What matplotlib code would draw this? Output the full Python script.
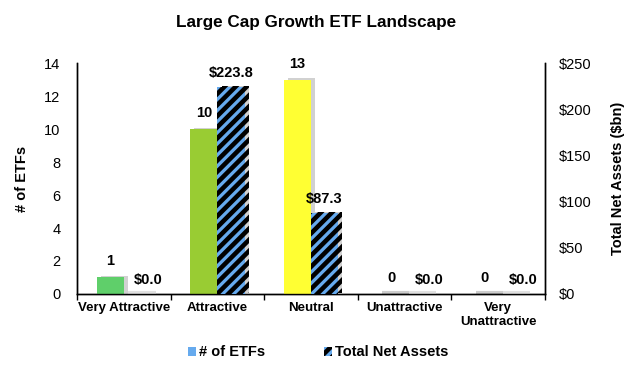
import matplotlib
matplotlib.use("Agg")
import matplotlib.pyplot as plt
import matplotlib.patheffects as pe
from matplotlib.patches import Patch
import numpy as np

categories = ["Very Attractive", "Attractive", "Neutral", "Unattractive", "Very\nUnattractive"]
num_etfs = [1, 10, 13, 0, 0]
net_assets = [0.0, 223.8, 87.3, 0.0, 0.0]
count_colors = ["#5FCF6A", "#99CC33", "#FFFF33", "#D9D9D9", "#D9D9D9"]

plt.rcParams['font.family'] = ['Liberation Sans', 'DejaVu Sans']
plt.rcParams['hatch.linewidth'] = 3.3
plt.rcParams['hatch.color'] = 'black'

fig = plt.figure(figsize=(6.3, 3.67), dpi=100)
ax = fig.add_axes([0.1222, 0.199, 0.743, 0.629])
ax2 = ax.twinx()

x = np.arange(len(categories)) + 0.5
w = 0.29
shadow = [pe.SimplePatchShadow(offset=(3, 1), shadow_rgbFace='#999999', alpha=0.45), pe.Normal()]

bars1 = ax.bar(x - w / 2, num_etfs, w, color=count_colors, edgecolor='none', zorder=3)
bars2 = ax2.bar(x + w / 2, net_assets, w, color='#66AAEE', hatch='///', edgecolor='black', linewidth=0, zorder=3)
for b in list(bars1) + list(bars2):
    b.set_path_effects(shadow)
# zero-height bars show as a thin gray line
for i, v in enumerate(num_etfs):
    if v == 0:
        ax.plot([x[i] - w + 0.05, x[i] + 0.05], [0.05, 0.05], color='#CCCCCC', lw=3, zorder=2, solid_capstyle='butt')
for i, v in enumerate(net_assets):
    if v == 0:
        ax2.plot([x[i] + 0.05, x[i] + w + 0.05], [0.9, 0.9], color='#E0E0E0', lw=3, zorder=2, solid_capstyle='butt')

for i, v in enumerate(num_etfs):
    ax.text(x[i] - w / 2, v + 0.55, f"{v}", ha='center', va='bottom', fontsize=10.5, fontweight='bold')
for i, v in enumerate(net_assets):
    dx = 0.12 if v == 0 else 0.0
    ax2.text(x[i] + w / 2 + dx, v + 8, f"${v:.1f}", ha='center', va='bottom', fontsize=10.5, fontweight='bold')

ax.set_xlim(0, 5)
ax.set_ylim(0, 14)
ax2.set_ylim(0, 250)
ax.set_yticks(np.arange(0, 15, 2))
ax2.set_yticks(np.arange(0, 251, 50))
ax2.set_yticklabels([f"${v}" for v in range(0, 251, 50)])
ax.set_xticks(x)
ax.set_xticklabels(categories, fontsize=9.5, fontweight='bold')
ax.set_xticks(np.arange(0, 6), minor=True)
ax.tick_params(axis='x', which='major', length=0, pad=6)
ax.tick_params(axis='x', which='minor', length=4, width=1, direction='out')
ax.tick_params(axis='y', length=0, labelsize=10.5, pad=12)
ax2.tick_params(axis='y', length=0, labelsize=10.5, pad=10)

for a in (ax, ax2):
    a.spines['top'].set_visible(False)
    a.spines['left'].set_linewidth(1)
    a.spines['right'].set_linewidth(1)
    a.spines['bottom'].set_linewidth(1)

ax.set_ylabel("# of ETFs", fontsize=10.5, fontweight='bold')
ax.yaxis.set_label_coords(-0.103, 0.5)
ax2.set_ylabel("Total Net Assets ($bn)", fontsize=10.5, fontweight='bold')
ax2.yaxis.set_label_coords(1.141, 0.5)

fig.suptitle("Large Cap Growth ETF Landscape", x=0.502, y=0.96, fontsize=12.3, fontweight='bold')

handles = [Patch(facecolor='#66AAEE', edgecolor='none'),
           Patch(facecolor='#66AAEE', edgecolor='black', hatch='///', linewidth=0)]
fig.legend(handles, ["# of ETFs", "Total Net Assets"], loc='center', bbox_to_anchor=(0.505, 0.04),
           ncol=2, frameon=False, handlelength=0.6, handleheight=0.6, handletextpad=0.2,
           columnspacing=4.0, prop={'weight': 'bold', 'size': 10.5})

fig.savefig("out.png", dpi=100)
